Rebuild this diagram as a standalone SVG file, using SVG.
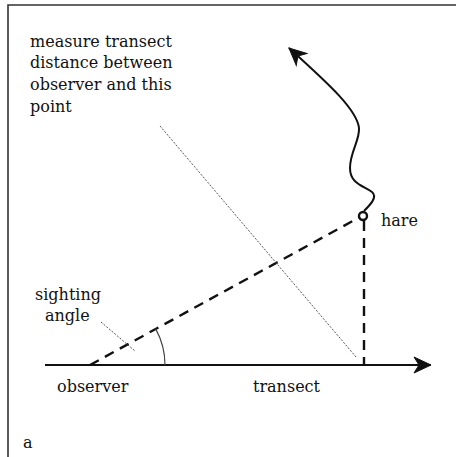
<svg xmlns="http://www.w3.org/2000/svg" width="456" height="457" viewBox="0 0 456 457">
<style>
text{font-family:"DejaVu Serif","Liberation Serif",serif;font-size:16px;fill:#111}
.solid{fill:none;stroke:#111;stroke-width:2}
.dash{fill:none;stroke:#111;stroke-width:2.4;stroke-dasharray:10 7}
.thin{fill:none;stroke:#555;stroke-width:1;stroke-dasharray:2 1.5}
</style>
<defs>
<marker id="barb" markerUnits="userSpaceOnUse" markerWidth="20" markerHeight="20" viewBox="-18 -9 20 18" refX="0" refY="0" orient="auto">
<path d="M0,0 L-17,-8 L-12,0 L-17,8 Z" fill="#111" stroke="#111" stroke-width="1"/>
</marker>
</defs>
<g id="frame">
<path d="M456,5 H8 V457" fill="none" stroke="#333" stroke-width="1.6"/>
</g>
<g id="connectors">
<path id="transect-line" class="solid" d="M45,365 H431" marker-end="url(#barb)"/>
<path id="sight-line" class="dash" d="M90,365 L360,217"/>
<path id="perp-line" class="dash" d="M364,221 V365"/>
<path id="angle-arc" d="M155.7,328.9 A75,75 0 0 1 165,365" fill="none" stroke="#444" stroke-width="1.2"/>
<path id="measure-pointer" class="thin" d="M160,126 L356,357"/>
<path id="angle-pointer" class="thin" d="M101,322 L135,351"/>
<path id="hare-track" class="solid" d="M364,211 C370,205 378,197 372,192 C364,186 350,184 350,168 C350,152 360,140 359,128 C357,110 330,85 289,48" marker-end="url(#barb)"/>
</g>
<g id="hare">
<circle cx="363" cy="216" r="4" fill="none" stroke="#111" stroke-width="2.4"/>
<text x="381" y="226">hare</text>
</g>
<g id="measure-label">
<text x="30" y="47">measure transect</text>
<text x="30" y="68">distance between</text>
<text x="30" y="90">observer and this</text>
<text x="30" y="112">point</text>
</g>
<g id="sighting-label">
<text x="35" y="300">sighting</text>
<text x="45" y="321">angle</text>
</g>
<g id="observer"><text x="57" y="392">observer</text></g>
<g id="transect"><text x="253" y="392">transect</text></g>
<g id="panel-label"><text x="23" y="448">a</text></g>
</svg>
